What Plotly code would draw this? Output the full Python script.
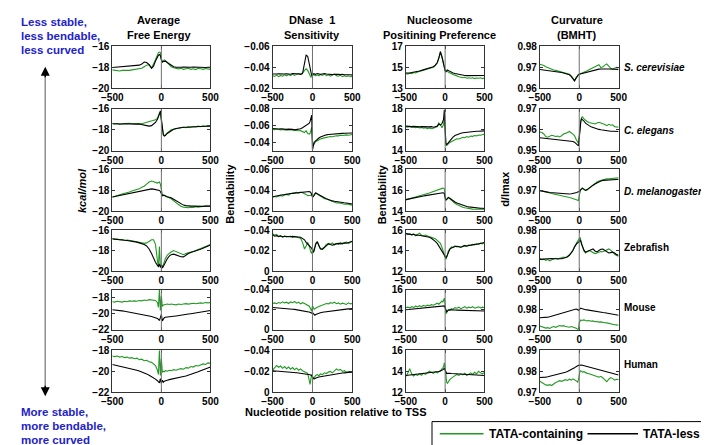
import plotly.graph_objects as go

# ---------------- data ----------------
POS = [-500, -475, -450, -425, -400, -375, -350, -325, -300, -275, -250, -225, -200, -175, -150, -125,
       -100, -80, -60, -40, -30, -20, -10, 0, 10, 20, 30, 40, 60, 80, 100,
       125, 150, 175, 200, 225, 250, 275, 300, 325, 350, 375, 400, 425, 450, 475, 500]

SPECIES = ["S. cerevisiae", "C. elegans", "D. melanogaster", "Zebrafish", "Mouse", "Human"]
COLUMN_TITLES = [["Average", "Free Energy"], ["DNase  1", "Sensitivity"],
                 ["Nucleosome", "Positining Preference"], ["Curvature", "(BMHT)"]]
SERIES_NAMES = ["TATA-containing", "TATA-less"]

# ---- Average free energy (kcal/mol)
energy_scer_tata = [-18.25,-18.3,-18.28,-18.35,-18.3,-18.32,-18.27,-18.3,-18.25,-18.2,-18.22,-18.15,-18.1,-17.95,-17.8,-17.75,
    -18.05,-17.7,-17.2,-16.8,-16.6,-16.55,-16.6,-17.2,-17.5,-17.4,-17.3,-17.35,-17.55,-17.8,-17.95,
    -18.05,-18.1,-18.15,-18.1,-18.2,-18.15,-18.1,-18.2,-18.15,-18.22,-18.1,-18.15,-18.2,-18.12,-18.18,-18.2]
energy_scer_less = [-18.02,-18.0,-17.98,-17.97,-17.95,-17.95,-17.93,-17.92,-17.9,-17.88,-17.85,-17.8,-17.7,-17.5,-17.55,-17.75,
    -18.1,-17.9,-17.4,-17.0,-16.85,-16.78,-16.9,-17.3,-17.5,-17.45,-17.4,-17.42,-17.55,-17.7,-17.85,
    -17.95,-18.0,-18.02,-18.0,-17.98,-18.0,-18.02,-18.0,-17.98,-18.0,-18.02,-18.0,-18.0,-18.02,-18.0,-18.0]
energy_cele_tata = [-17.38,-17.45,-17.4,-17.48,-17.42,-17.4,-17.45,-17.38,-17.42,-17.4,-17.45,-17.4,-17.42,-17.35,-17.3,-17.25,
    -17.2,-17.15,-17.05,-16.9,-16.6,-16.4,-16.5,-17.3,-18.2,-18.45,-18.55,-18.5,-18.3,-18.15,-18.0,
    -17.95,-17.9,-17.85,-17.82,-17.75,-17.8,-17.72,-17.75,-17.68,-17.72,-17.65,-17.7,-17.62,-17.68,-17.6,-17.65]
energy_cele_less = [-17.42,-17.44,-17.41,-17.43,-17.45,-17.42,-17.44,-17.43,-17.45,-17.44,-17.46,-17.45,-17.48,-17.5,-17.6,-17.65,
    -17.6,-17.45,-17.3,-17.0,-16.8,-16.5,-16.2,-17.0,-18.2,-18.5,-18.6,-18.55,-18.35,-18.2,-18.05,
    -17.95,-17.88,-17.82,-17.78,-17.76,-17.75,-17.73,-17.72,-17.71,-17.7,-17.69,-17.68,-17.67,-17.66,-17.65,-17.65]
energy_dmel_tata = [-18.65,-18.55,-18.5,-18.42,-18.35,-18.3,-18.2,-18.15,-18.05,-18.0,-17.9,-17.85,-17.7,-17.6,-17.4,-17.2,
    -17.1,-17.15,-17.2,-17.3,-17.25,-17.2,-17.4,-18.2,-18.4,-18.5,-18.45,-18.55,-18.6,-18.7,-18.8,
    -19.0,-19.15,-19.35,-19.5,-19.6,-19.62,-19.65,-19.6,-19.62,-19.55,-19.6,-19.55,-19.5,-19.5,-19.5,-19.48]
energy_dmel_less = [-18.62,-18.57,-18.52,-18.47,-18.42,-18.37,-18.33,-18.29,-18.25,-18.2,-18.15,-18.1,-18.0,-17.95,-17.9,-17.87,
    -17.85,-17.88,-17.92,-17.96,-17.98,-18.0,-18.1,-18.3,-18.5,-18.45,-18.45,-18.5,-18.6,-18.65,-18.7,
    -18.85,-19.0,-19.15,-19.3,-19.4,-19.45,-19.5,-19.5,-19.5,-19.52,-19.5,-19.5,-19.52,-19.5,-19.5,-19.5]
energy_zfish_tata = [-16.83,-16.9,-16.88,-16.95,-16.92,-17.0,-16.98,-17.05,-17.05,-17.1,-17.15,-17.2,-17.25,-17.3,-17.25,-17.1,
    -16.95,-16.95,-17.4,-19.0,-19.6,-17.6,-19.6,-19.4,-19.55,-19.4,-19.1,-18.8,-18.45,-18.25,-18.15,
    -18.0,-18.1,-18.2,-18.35,-18.4,-18.3,-18.2,-18.15,-18.1,-18.0,-17.95,-17.85,-17.75,-17.65,-17.55,-17.4]
energy_zfish_less = [-16.86,-16.9,-16.92,-16.95,-16.98,-17.0,-17.02,-17.05,-17.08,-17.12,-17.18,-17.25,-17.32,-17.42,-17.55,-17.85,
    -18.3,-18.75,-19.15,-19.45,-19.55,-19.3,-19.65,-19.4,-19.7,-19.55,-19.35,-19.15,-18.8,-18.55,-18.4,
    -18.35,-18.45,-18.55,-18.6,-18.62,-18.45,-18.3,-18.2,-18.1,-18.0,-17.95,-17.88,-17.78,-17.65,-17.55,-17.45]
energy_mouse_tata = [-18.5,-18.55,-18.45,-18.5,-18.55,-18.45,-18.5,-18.4,-18.45,-18.4,-18.45,-18.35,-18.4,-18.3,-18.35,-18.25,
    -18.3,-18.4,-18.35,-18.6,-19.2,-17.0,-19.6,-17.8,-19.1,-18.9,-18.85,-18.9,-18.8,-18.85,-18.8,
    -18.85,-18.9,-18.8,-18.85,-18.8,-18.75,-18.8,-18.75,-18.7,-18.75,-18.7,-18.65,-18.7,-18.6,-18.65,-18.6]
energy_mouse_less = [-19.5,-19.52,-19.55,-19.6,-19.65,-19.7,-19.75,-19.8,-19.85,-19.9,-19.95,-20.0,-20.05,-20.12,-20.2,-20.28,
    -20.35,-20.42,-20.5,-20.6,-20.7,-20.85,-20.5,-20.1,-20.9,-20.6,-20.5,-20.45,-20.4,-20.38,-20.35,
    -20.32,-20.28,-20.25,-20.2,-20.15,-20.1,-20.05,-20.0,-19.95,-19.9,-19.85,-19.8,-19.75,-19.7,-19.65,-19.6]
energy_human_tata = [-18.55,-18.6,-18.55,-18.65,-18.6,-18.7,-18.65,-18.75,-18.7,-18.8,-18.75,-18.9,-18.85,-19.0,-18.95,-19.1,
    -19.15,-19.3,-19.45,-19.9,-20.3,-18.0,-20.4,-18.8,-20.1,-20.0,-20.05,-19.95,-20.0,-19.9,-19.95,
    -19.85,-19.9,-19.8,-19.75,-19.8,-19.65,-19.7,-19.55,-19.6,-19.45,-19.5,-19.4,-19.3,-19.35,-19.2,-19.25]
energy_human_less = [-19.35,-19.4,-19.45,-19.5,-19.55,-19.6,-19.65,-19.7,-19.75,-19.82,-19.9,-19.98,-20.05,-20.15,-20.25,-20.38,
    -20.5,-20.62,-20.75,-20.9,-21.0,-21.1,-20.7,-21.15,-20.85,-21.05,-20.95,-20.9,-20.85,-20.8,-20.75,
    -20.7,-20.65,-20.6,-20.55,-20.5,-20.45,-20.38,-20.3,-20.22,-20.15,-20.05,-19.95,-19.85,-19.75,-19.65,-19.6]

# ---- DNase 1 sensitivity (bendability)
dnase_scer_tata = [-0.032,-0.0312,-0.0325,-0.031,-0.0322,-0.0315,-0.0328,-0.0318,-0.033,-0.032,-0.0335,-0.0322,-0.0332,-0.034,-0.0335,-0.0345,
    -0.037,-0.0385,-0.037,-0.034,-0.032,-0.0305,-0.031,-0.0325,-0.0335,-0.0322,-0.0335,-0.032,-0.0328,-0.0318,-0.033,
    -0.0322,-0.0335,-0.032,-0.0328,-0.0315,-0.0325,-0.0335,-0.032,-0.0315,-0.0325,-0.031,-0.032,-0.0312,-0.0318,-0.031,-0.0315]
dnase_scer_less = [-0.0335,-0.0333,-0.0335,-0.0338,-0.0335,-0.0332,-0.0335,-0.0338,-0.0336,-0.0333,-0.034,-0.0342,-0.0338,-0.0335,-0.0332,-0.034,
    -0.045,-0.0515,-0.0505,-0.043,-0.038,-0.034,-0.032,-0.0335,-0.034,-0.0338,-0.0335,-0.0333,-0.034,-0.0335,-0.0332,
    -0.0336,-0.034,-0.0336,-0.0333,-0.0335,-0.033,-0.0333,-0.0336,-0.0332,-0.033,-0.0333,-0.0328,-0.033,-0.0326,-0.0328,-0.0325]
dnase_cele_tata = [-0.0558,-0.0552,-0.056,-0.0555,-0.0548,-0.0555,-0.055,-0.0545,-0.0552,-0.0548,-0.0545,-0.054,-0.0545,-0.0538,-0.054,-0.0525,
    -0.0518,-0.054,-0.0505,-0.0498,-0.051,-0.054,-0.058,-0.042,-0.0375,-0.038,-0.0395,-0.041,-0.042,-0.0435,-0.044,
    -0.0448,-0.0455,-0.046,-0.0465,-0.047,-0.0468,-0.0475,-0.048,-0.0478,-0.0485,-0.0482,-0.0488,-0.049,-0.0485,-0.0492,-0.0495]
dnase_cele_less = [-0.0565,-0.0562,-0.0566,-0.056,-0.0563,-0.0558,-0.056,-0.0555,-0.0558,-0.0552,-0.0555,-0.055,-0.0553,-0.0555,-0.0562,-0.0575,
    -0.059,-0.0605,-0.0615,-0.063,-0.065,-0.0675,-0.0725,-0.031,-0.037,-0.0395,-0.041,-0.042,-0.0435,-0.0452,-0.0465,
    -0.0475,-0.0485,-0.049,-0.0495,-0.0498,-0.05,-0.0502,-0.0505,-0.0506,-0.0507,-0.0508,-0.0509,-0.051,-0.051,-0.0511,-0.0512]
dnase_dmel_tata = [-0.0335,-0.0342,-0.0338,-0.0348,-0.0352,-0.0345,-0.0358,-0.0362,-0.0355,-0.0368,-0.0372,-0.0378,-0.0382,-0.0375,-0.0385,-0.0378,
    -0.0372,-0.0362,-0.035,-0.0348,-0.0352,-0.0355,-0.0365,-0.0345,-0.035,-0.036,-0.037,-0.0378,-0.0365,-0.0352,-0.0345,
    -0.0335,-0.032,-0.0318,-0.031,-0.0298,-0.0295,-0.0285,-0.028,-0.0282,-0.0275,-0.0272,-0.0268,-0.027,-0.0265,-0.0262,-0.026]
dnase_dmel_less = [-0.034,-0.0345,-0.0348,-0.035,-0.0355,-0.0358,-0.036,-0.0365,-0.0368,-0.037,-0.0372,-0.0375,-0.0378,-0.038,-0.0382,-0.0385,
    -0.0388,-0.039,-0.0392,-0.039,-0.0385,-0.038,-0.036,-0.0335,-0.034,-0.0355,-0.037,-0.0375,-0.0368,-0.0358,-0.035,
    -0.034,-0.033,-0.032,-0.0312,-0.0305,-0.03,-0.0296,-0.0292,-0.029,-0.0288,-0.0285,-0.0282,-0.028,-0.0276,-0.0272,-0.027]
dnase_zfish_tata = [-0.0365,-0.035,-0.0358,-0.0335,-0.0345,-0.0328,-0.034,-0.0332,-0.0335,-0.034,-0.0328,-0.0335,-0.033,-0.0325,-0.032,-0.028,
    -0.0215,-0.0245,-0.028,-0.024,-0.0205,-0.0185,-0.017,-0.02,-0.0195,-0.021,-0.0235,-0.027,-0.0285,-0.0245,-0.0215,
    -0.022,-0.0235,-0.026,-0.027,-0.0262,-0.0275,-0.0255,-0.027,-0.026,-0.0278,-0.0262,-0.0272,-0.0285,-0.0268,-0.0282,-0.029]
dnase_zfish_less = [-0.0355,-0.034,-0.0345,-0.0338,-0.0342,-0.0335,-0.034,-0.0336,-0.0338,-0.0335,-0.0338,-0.0334,-0.0336,-0.0332,-0.033,-0.032,
    -0.0305,-0.028,-0.026,-0.024,-0.0235,-0.023,-0.0222,-0.0205,-0.0185,-0.0195,-0.0225,-0.026,-0.0285,-0.025,-0.0218,
    -0.0212,-0.023,-0.0255,-0.0265,-0.0258,-0.0252,-0.026,-0.0268,-0.027,-0.0265,-0.027,-0.0275,-0.0272,-0.028,-0.0285,-0.029]
dnase_mouse_tata = [-0.0262,-0.0268,-0.026,-0.0272,-0.0265,-0.0278,-0.0268,-0.0275,-0.0262,-0.0278,-0.027,-0.0282,-0.0265,-0.0275,-0.0258,-0.027,
    -0.0262,-0.0255,-0.0248,-0.0235,-0.022,-0.0205,-0.0185,-0.024,-0.022,-0.0205,-0.021,-0.0218,-0.0225,-0.0232,-0.024,
    -0.0248,-0.0255,-0.0262,-0.0258,-0.027,-0.0265,-0.0275,-0.026,-0.0268,-0.0255,-0.0265,-0.026,-0.0252,-0.0268,-0.0258,-0.0262]
dnase_mouse_less = [-0.0222,-0.0221,-0.022,-0.0218,-0.0217,-0.0215,-0.0213,-0.0211,-0.021,-0.0207,-0.0205,-0.0203,-0.02,-0.0198,-0.0195,-0.0192,
    -0.019,-0.0187,-0.0184,-0.018,-0.0175,-0.017,-0.0165,-0.017,-0.0158,-0.0148,-0.0145,-0.0152,-0.016,-0.0165,-0.017,
    -0.0175,-0.0178,-0.0182,-0.0185,-0.0188,-0.019,-0.0193,-0.0195,-0.0197,-0.02,-0.0202,-0.0204,-0.0206,-0.0208,-0.021,-0.0212]
dnase_human_tata = [-0.021,-0.0232,-0.0255,-0.0238,-0.025,-0.0228,-0.0245,-0.0225,-0.024,-0.022,-0.0235,-0.0215,-0.023,-0.021,-0.0222,-0.0205,
    -0.0195,-0.0185,-0.018,-0.011,-0.0075,-0.0125,-0.017,-0.0155,-0.0135,-0.0138,-0.015,-0.016,-0.0168,-0.0158,-0.0175,
    -0.0168,-0.0185,-0.0178,-0.0192,-0.0198,-0.0185,-0.0205,-0.0222,-0.021,-0.0218,-0.0198,-0.0205,-0.0192,-0.0198,-0.0188,-0.0192]
dnase_human_less = [-0.0205,-0.0204,-0.0203,-0.0202,-0.02,-0.0199,-0.0197,-0.0195,-0.0193,-0.0191,-0.019,-0.0188,-0.0186,-0.0184,-0.0182,-0.018,
    -0.0177,-0.0174,-0.0171,-0.0168,-0.0166,-0.0163,-0.016,-0.0145,-0.0128,-0.0125,-0.013,-0.0135,-0.014,-0.0145,-0.0148,
    -0.0152,-0.0156,-0.016,-0.0163,-0.0166,-0.0169,-0.0172,-0.0175,-0.0178,-0.018,-0.0183,-0.0185,-0.0187,-0.0189,-0.0191,-0.0193]

# ---- Nucleosome positioning preference (bendability)
nucl_scer_tata = [14.4,14.35,14.42,14.38,14.5,14.45,14.55,14.6,14.65,14.7,14.78,14.8,14.88,14.92,15.0,15.15,
    15.4,15.85,16.4,15.95,15.55,15.2,14.9,14.65,14.55,14.6,14.65,14.55,14.45,14.35,14.3,
    14.25,14.15,14.1,14.05,14.0,14.05,13.95,14.0,13.95,14.0,13.92,13.98,13.95,14.0,13.92,13.98]
nucl_scer_less = [14.45,14.42,14.45,14.5,14.52,14.55,14.6,14.65,14.7,14.75,14.8,14.85,14.9,14.95,15.05,15.2,
    15.45,15.9,16.5,16.0,15.6,15.3,15.0,14.7,14.6,14.7,14.75,14.7,14.6,14.5,14.45,
    14.4,14.35,14.3,14.28,14.25,14.22,14.2,14.2,14.18,14.2,14.18,14.2,14.18,14.2,14.2,14.22]
nucl_cele_tata = [16.3,16.25,16.32,16.22,16.28,16.2,16.25,16.18,16.22,16.15,16.2,16.12,16.18,16.1,16.15,16.2,
    16.3,16.65,16.5,16.2,16.3,16.5,17.2,15.6,14.55,14.5,14.55,14.65,14.8,14.9,15.0,
    15.05,15.15,15.12,15.2,15.28,15.25,15.35,15.3,15.4,15.38,15.45,15.42,15.5,15.48,15.55,15.6]
nucl_cele_less = [16.35,16.32,16.35,16.3,16.33,16.3,16.32,16.28,16.3,16.28,16.3,16.25,16.28,16.3,16.25,16.3,
    16.35,16.55,16.45,16.6,16.75,17.0,17.9,15.2,14.65,14.6,14.65,14.75,14.95,15.15,15.3,
    15.45,15.55,15.62,15.68,15.72,15.75,15.78,15.8,15.82,15.83,15.85,15.86,15.87,15.88,15.88,15.9]
nucl_dmel_tata = [15.1,15.15,15.18,15.25,15.3,15.35,15.4,15.45,15.5,15.55,15.6,15.68,15.75,15.82,15.9,15.98,
    16.05,16.12,16.18,16.2,16.22,16.2,16.15,15.4,15.05,15.15,15.3,15.35,15.2,15.05,14.9,
    14.78,14.65,14.55,14.48,14.4,14.35,14.3,14.25,14.25,14.22,14.2,14.22,14.2,14.22,14.2,14.2]
nucl_dmel_less = [15.12,15.15,15.2,15.23,15.27,15.3,15.35,15.38,15.42,15.46,15.5,15.54,15.58,15.62,15.66,15.7,
    15.74,15.77,15.8,15.8,15.78,15.75,15.7,15.3,15.1,15.15,15.25,15.32,15.25,15.12,15.0,
    14.9,14.8,14.72,14.65,14.58,14.52,14.47,14.43,14.4,14.37,14.35,14.33,14.32,14.3,14.3,14.28]
nucl_zfish_tata = [15.7,15.55,15.65,15.5,15.62,15.45,15.58,15.7,15.5,15.45,15.52,15.4,15.35,15.3,15.25,15.15,
    15.0,14.85,14.7,14.3,14.0,13.8,13.55,13.35,13.15,13.3,13.6,13.95,14.2,14.35,14.3,
    14.45,14.35,14.4,14.3,14.45,14.5,14.4,14.55,14.5,14.6,14.55,14.65,14.6,14.72,14.65,14.8]
nucl_zfish_less = [15.65,15.6,15.62,15.55,15.58,15.5,15.52,15.48,15.45,15.42,15.4,15.36,15.3,15.2,15.08,14.9,
    14.7,14.45,14.2,13.95,13.85,13.75,13.6,13.45,13.3,13.4,13.65,13.9,14.15,14.25,14.35,
    14.4,14.42,14.38,14.32,14.4,14.48,14.45,14.5,14.52,14.55,14.6,14.62,14.65,14.7,14.72,14.78]
nucl_mouse_tata = [14.2,14.25,14.18,14.3,14.22,14.35,14.28,14.4,14.3,14.42,14.35,14.45,14.4,14.5,14.45,14.55,
    14.65,14.55,14.7,14.85,14.75,14.9,15.15,14.5,13.6,13.7,13.85,14.0,13.95,14.1,14.05,
    14.2,14.15,14.25,14.1,14.2,14.3,14.15,14.25,14.2,14.3,14.15,14.22,14.28,14.18,14.25,14.2]
nucl_mouse_less = [14.0,14.02,14.03,14.05,14.06,14.08,14.1,14.12,14.13,14.15,14.17,14.18,14.2,14.22,14.23,14.25,
    14.27,14.28,14.3,14.32,14.33,14.35,14.38,14.2,13.85,13.8,13.88,13.95,13.98,14.0,13.98,
    13.97,13.96,13.95,13.95,13.94,13.93,13.93,13.92,13.92,13.9,13.9,13.9,13.88,13.88,13.87,13.87]
nucl_human_tata = [13.5,13.8,14.25,13.75,13.55,13.7,13.6,13.75,13.62,13.8,13.7,13.85,14.0,13.9,13.8,13.95,
    13.85,13.95,14.05,14.25,14.3,14.45,14.8,14.3,13.2,12.95,12.85,13.0,13.2,13.35,13.45,
    13.55,13.7,13.6,13.75,13.65,13.8,13.6,13.75,13.85,13.7,13.9,13.75,14.0,13.85,13.75,13.9]
nucl_human_less = [13.6,13.62,13.63,13.65,13.66,13.68,13.7,13.72,13.74,13.76,13.78,13.8,13.83,13.86,13.89,13.92,
    13.95,13.98,14.02,14.08,14.12,14.18,14.3,14.1,13.85,13.78,13.8,13.82,13.8,13.78,13.77,
    13.76,13.75,13.74,13.73,13.72,13.71,13.7,13.69,13.68,13.67,13.66,13.65,13.64,13.63,13.62,13.6]

# ---- Curvature (BMHT), d/lmax
curv_scer_tata = [0.9714,0.9712,0.9708,0.9702,0.9698,0.9693,0.969,0.9687,0.9685,0.9682,0.968,0.9678,0.9675,0.9673,0.967,0.9667,
    0.9658,0.9645,0.9638,0.965,0.9658,0.9663,0.9666,0.9667,0.9669,0.967,0.9671,0.9673,0.9676,0.968,0.9683,
    0.9688,0.9692,0.9698,0.9704,0.971,0.9712,0.9698,0.9702,0.971,0.9716,0.9705,0.9695,0.9692,0.9698,0.97,0.9698]
curv_scer_less = [0.9689,0.9688,0.9686,0.9684,0.9683,0.9681,0.968,0.9679,0.9678,0.9677,0.9676,0.9675,0.9673,0.9671,0.9668,0.9664,
    0.9655,0.9642,0.9635,0.9648,0.9656,0.9662,0.9665,0.9667,0.9668,0.9668,0.9669,0.967,0.9672,0.9675,0.9678,
    0.968,0.9683,0.9686,0.9688,0.969,0.9691,0.9692,0.9693,0.9693,0.9692,0.9692,0.9691,0.9691,0.969,0.969,0.969]
curv_cele_tata = [0.959,0.9587,0.958,0.9568,0.9565,0.957,0.9574,0.9572,0.9568,0.957,0.9566,0.9572,0.958,0.9583,0.9588,0.9592,
    0.9585,0.9578,0.9572,0.9555,0.9545,0.954,0.9535,0.957,0.962,0.9645,0.9658,0.9662,0.9652,0.9645,0.964,
    0.9635,0.9632,0.963,0.9628,0.9632,0.9636,0.9633,0.963,0.9625,0.962,0.9626,0.9622,0.9624,0.9615,0.9612,0.9612]
curv_cele_less = [0.9562,0.9561,0.956,0.9558,0.9557,0.9556,0.9555,0.9555,0.9554,0.9554,0.9554,0.9553,0.9552,0.9551,0.955,0.9549,
    0.9547,0.9544,0.9541,0.9535,0.953,0.9526,0.9523,0.956,0.961,0.964,0.9652,0.965,0.9642,0.9632,0.9625,
    0.962,0.9615,0.9611,0.9608,0.9605,0.9602,0.96,0.9598,0.9597,0.9595,0.9594,0.9593,0.9593,0.9592,0.9592,0.9592]
curv_dmel_tata = [0.97,0.9697,0.9694,0.9692,0.969,0.9688,0.9685,0.9683,0.968,0.9679,0.9677,0.9675,0.9672,0.967,0.9668,0.9666,
    0.9664,0.9662,0.966,0.9658,0.9656,0.9654,0.9652,0.9675,0.9695,0.9705,0.971,0.9712,0.9706,0.97,0.9702,
    0.971,0.9718,0.9725,0.9732,0.974,0.9745,0.9748,0.9752,0.9754,0.9755,0.9756,0.9757,0.9758,0.9758,0.976,0.976]
curv_dmel_less = [0.9699,0.9698,0.9696,0.9694,0.9692,0.969,0.9689,0.9688,0.9687,0.9686,0.9685,0.9684,0.9684,0.9683,0.9683,0.9683,
    0.9684,0.9685,0.9686,0.9688,0.969,0.9692,0.9693,0.9695,0.97,0.9705,0.9709,0.971,0.9705,0.97,0.9704,
    0.9712,0.9719,0.9725,0.9731,0.9737,0.9742,0.9745,0.9748,0.9749,0.975,0.975,0.9751,0.9751,0.9752,0.9752,0.9752]
curv_zfish_tata = [0.9662,0.9655,0.9658,0.9652,0.9656,0.965,0.9655,0.9658,0.9662,0.9658,0.9663,0.9665,0.9668,0.9665,0.967,0.9678,
    0.969,0.9702,0.972,0.9735,0.974,0.9745,0.9752,0.976,0.9765,0.975,0.9735,0.972,0.9698,0.9688,0.9694,
    0.97,0.9695,0.9688,0.9685,0.9688,0.9692,0.9695,0.9694,0.97,0.9705,0.9708,0.9702,0.969,0.9682,0.9676,0.9672]
curv_zfish_less = [0.9657,0.9658,0.966,0.9661,0.9662,0.9662,0.9661,0.966,0.966,0.9659,0.9658,0.966,0.9662,0.9665,0.967,0.9677,
    0.9688,0.97,0.9718,0.9732,0.9735,0.9737,0.974,0.9745,0.9752,0.9745,0.973,0.9718,0.9702,0.9692,0.9696,
    0.9702,0.9706,0.9708,0.9698,0.9693,0.97,0.9706,0.9707,0.97,0.9693,0.9688,0.969,0.9692,0.9688,0.968,0.9677]
curv_mouse_tata = [0.9718,0.9715,0.9712,0.9708,0.971,0.9706,0.9712,0.9716,0.9712,0.9718,0.9721,0.9718,0.972,0.9716,0.9714,0.9712,
    0.9716,0.9714,0.9712,0.971,0.9706,0.97,0.9702,0.9735,0.9745,0.9748,0.9746,0.9748,0.9749,0.9746,0.9744,
    0.9746,0.9742,0.9744,0.974,0.9741,0.9738,0.9739,0.9736,0.9735,0.9734,0.9731,0.9729,0.9728,0.9725,0.9724,0.9722]
curv_mouse_less = [0.976,0.976,0.9761,0.9762,0.9763,0.9765,0.9768,0.977,0.9772,0.9775,0.9777,0.978,0.9783,0.9786,0.9789,0.9792,
    0.9795,0.9798,0.98,0.9803,0.9802,0.9798,0.9797,0.98,0.9806,0.9808,0.9806,0.9804,0.9802,0.98,0.9799,
    0.9797,0.9795,0.9793,0.9792,0.979,0.9789,0.9787,0.9786,0.9785,0.9783,0.9781,0.9779,0.9777,0.9775,0.9773,0.9772]
curv_human_tata = [0.9752,0.9745,0.9738,0.9735,0.9733,0.9736,0.9732,0.974,0.9746,0.975,0.9755,0.9752,0.9758,0.976,0.9756,0.9762,
    0.9758,0.9764,0.976,0.9755,0.975,0.9748,0.976,0.9785,0.98,0.9803,0.98,0.9796,0.9798,0.9792,0.979,
    0.9788,0.9784,0.9782,0.9778,0.9775,0.9772,0.9776,0.9768,0.9758,0.975,0.9762,0.977,0.9765,0.9758,0.9762,0.976]
curv_human_less = [0.977,0.977,0.977,0.9772,0.9774,0.9776,0.9778,0.978,0.9782,0.9784,0.9786,0.9789,0.9792,0.9795,0.9799,0.9803,
    0.9808,0.9812,0.9817,0.9822,0.9825,0.9827,0.9828,0.9829,0.983,0.983,0.983,0.9829,0.9827,0.9825,0.9823,
    0.982,0.9818,0.9815,0.9812,0.981,0.9807,0.9804,0.9801,0.9798,0.9795,0.9792,0.979,0.9788,0.9786,0.9784,0.9782]

# y-axis ranges [bottom, top] and tick values per panel (row-major)
Y_RANGES = [
    [(-20, -16), (-0.02, -0.06), (13, 17), (0.96, 0.98)],
    [(-20, -16), (-0.03, -0.08), (14, 18), (0.95, 0.97)],
    [(-20, -16), (-0.02, -0.06), (14, 18), (0.96, 0.98)],
    [(-20, -16), (0.0, -0.04), (12, 16), (0.96, 0.98)],
    [(-22, -17), (0.0, -0.04), (12, 16), (0.97, 0.99)],
    [(-22, -18), (0.0, -0.04), (12, 16), (0.97, 0.99)],
]
Y_TICKS = [
    [[-20, -18, -16], [-0.06, -0.04, -0.02], [13, 15, 17], [0.96, 0.97, 0.98]],
    [[-20, -18, -16], [-0.08, -0.06, -0.04], [14, 16, 18], [0.95, 0.96, 0.97]],
    [[-20, -18, -16], [-0.06, -0.04, -0.02], [14, 16, 18], [0.96, 0.97, 0.98]],
    [[-20, -18, -16], [-0.04, -0.02, 0], [12, 14, 16], [0.96, 0.97, 0.98]],
    [[-22, -20, -18], [-0.04, -0.02, 0], [12, 14, 16], [0.97, 0.98, 0.99]],
    [[-22, -20, -18], [-0.04, -0.02, 0], [12, 14, 16], [0.97, 0.98, 0.99]],
]
X_TICKS = [-500, 0, 500]

PANELS = [
    [(energy_scer_tata, energy_scer_less), (dnase_scer_tata, dnase_scer_less), (nucl_scer_tata, nucl_scer_less), (curv_scer_tata, curv_scer_less)],
    [(energy_cele_tata, energy_cele_less), (dnase_cele_tata, dnase_cele_less), (nucl_cele_tata, nucl_cele_less), (curv_cele_tata, curv_cele_less)],
    [(energy_dmel_tata, energy_dmel_less), (dnase_dmel_tata, dnase_dmel_less), (nucl_dmel_tata, nucl_dmel_less), (curv_dmel_tata, curv_dmel_less)],
    [(energy_zfish_tata, energy_zfish_less), (dnase_zfish_tata, dnase_zfish_less), (nucl_zfish_tata, nucl_zfish_less), (curv_zfish_tata, curv_zfish_less)],
    [(energy_mouse_tata, energy_mouse_less), (dnase_mouse_tata, dnase_mouse_less), (nucl_mouse_tata, nucl_mouse_less), (curv_mouse_tata, curv_mouse_less)],
    [(energy_human_tata, energy_human_less), (dnase_human_tata, dnase_human_less), (nucl_human_tata, nucl_human_less), (curv_human_tata, curv_human_less)],
]

for row in PANELS:
    for pair in row:
        for s in pair:
            assert len(s) == len(POS), len(s)

# ---------------- layout / style ----------------
W, H = 709, 445
FONT = "Liberation Sans, Arial, Helvetica, sans-serif"
GREEN = "#229a22"
BLACK = "#000000"
BLUE = "#2222cc"
COL_PX = [(96, 197), (261, 343), (398, 479), (536, 617)]
ROW_PX = [(34, 77), (98, 141), (160, 203), (222, 264), (283, 324), (345, 388)]


def px(x):
    return x / W


def py(y):
    return 1 - y / H


def fmt(v):
    s = ("%g" % v)
    return s.replace("-", "\u2212")


fig = go.Figure()
layout = {}
shapes = []
for r in range(6):
    for c in range(4):
        n = r * 4 + c + 1
        xa = "x" if n == 1 else "x%d" % n
        ya = "y" if n == 1 else "y%d" % n
        tata, less = PANELS[r][c]
        fig.add_trace(go.Scatter(x=POS, y=tata, mode="lines", name=SERIES_NAMES[0],
                                 line=dict(color=GREEN, width=1.1), showlegend=False,
                                 xaxis=xa, yaxis=ya))
        fig.add_trace(go.Scatter(x=POS, y=less, mode="lines", name=SERIES_NAMES[1],
                                 line=dict(color=BLACK, width=1.1), showlegend=False,
                                 xaxis=xa, yaxis=ya))
        x0, x1 = COL_PX[c]
        y0, y1 = ROW_PX[r]
        b, t = Y_RANGES[r][c]
        eps = abs(t - b) * 1e-3
        if t > b:
            rng = [b - eps, t + eps]
        else:
            rng = [b + eps, t - eps]
        common = dict(showline=True, mirror="ticks", linecolor="#333333", linewidth=1,
                      ticks="inside", ticklen=3, tickcolor="#333333", showgrid=False,
                      zeroline=False,
                      tickfont=dict(family=FONT, size=10, color="black", weight="bold"))
        layout["xaxis" if n == 1 else "xaxis%d" % n] = dict(
            domain=[px(x0), px(x1)], range=[-500, 500], anchor=ya,
            tickvals=X_TICKS, ticktext=[fmt(v) for v in X_TICKS], **common)
        layout["yaxis" if n == 1 else "yaxis%d" % n] = dict(
            domain=[py(y1), py(y0)], range=rng, anchor=xa,
            tickvals=Y_TICKS[r][c], ticktext=[fmt(v) for v in Y_TICKS[r][c]], **common)
        shapes.append(dict(type="line", xref=xa, yref=ya + " domain", x0=0, x1=0, y0=0, y1=1,
                           line=dict(color="#707070", width=1), layer="above"))

annotations = []


def ann(text, x, y, size=11, color="black", xanchor="center", yanchor="middle",
        angle=0, italic=False):
    annotations.append(dict(text=text, x=px(x), y=py(y), xref="paper", yref="paper",
                            xanchor=xanchor, yanchor=yanchor, showarrow=False,
                            textangle=angle,
                            font=dict(family=FONT, size=size, color=color, weight="bold",
                                      style="italic" if italic else "normal")))


# column titles
TITLE_X = [144, 302, 433, 574]
for c in range(4):
    ann(COLUMN_TITLES[c][0], TITLE_X[c], 7)
    ann(COLUMN_TITLES[c][1], TITLE_X[c], 22)

# species labels
SPECIES_Y = [56, 120, 183, 240, 301, 360]
for r in range(6):
    ann(SPECIES[r], 621, SPECIES_Y[r], size=10, xanchor="left", italic=(r < 3))

# y-axis titles
ann("kcal/mol", 65, 182, angle=-90, italic=True)
ann("Bendability", 217, 185, angle=-90)
ann("Bendability", 373, 185, angle=-90)
ann("d/lmax", 500, 180, angle=-90)

# x-axis title
ann("Nucleotide position relative to TSS", 326, 408)

# blue side notes
for i, line in enumerate(["Less stable,", "less bendable,", "less curved"]):
    ann(line, 0, 9 + 14.5 * i, size=11.5, color=BLUE, xanchor="left")
for i, line in enumerate(["More stable,", "more bendable,", "more curved"]):
    ann(line, 0, 408 + 14.2 * i, size=11.5, color=BLUE, xanchor="left")

# vertical double arrow
shapes.append(dict(type="line", xref="paper", yref="paper", x0=px(27), x1=px(27),
                   y0=py(62), y1=py(386), line=dict(color="#909090", width=1.5)))
for tip, off in [(55, 12), (392, -12)]:
    annotations.append(dict(text="", x=px(27), y=py(tip), xref="paper", yref="paper",
                            ax=0, ay=off, showarrow=True, arrowhead=2, arrowsize=1.2,
                            arrowwidth=1.5, arrowcolor="black"))

# legend box (drawn)
shapes.append(dict(type="rect", xref="paper", yref="paper", x0=px(425), x1=px(706),
                   y0=py(443), y1=py(418), line=dict(color="black", width=1),
                   fillcolor="white"))
shapes.append(dict(type="line", xref="paper", yref="paper", x0=px(433), x1=px(478),
                   y0=py(430.5), y1=py(430.5), line=dict(color=GREEN, width=1.5)))
shapes.append(dict(type="line", xref="paper", yref="paper", x0=px(585), x1=px(637),
                   y0=py(430.5), y1=py(430.5), line=dict(color=BLACK, width=1.5)))
ann(SERIES_NAMES[0], 482, 430.5, size=12, xanchor="left")
ann(SERIES_NAMES[1], 640, 430.5, size=12, xanchor="left")

fig.update_layout(width=W, height=H, margin=dict(l=0, r=0, t=0, b=0),
                  paper_bgcolor="white", plot_bgcolor="white", showlegend=False,
                  shapes=shapes, annotations=annotations, **layout)

fig.write_html("out.html")
